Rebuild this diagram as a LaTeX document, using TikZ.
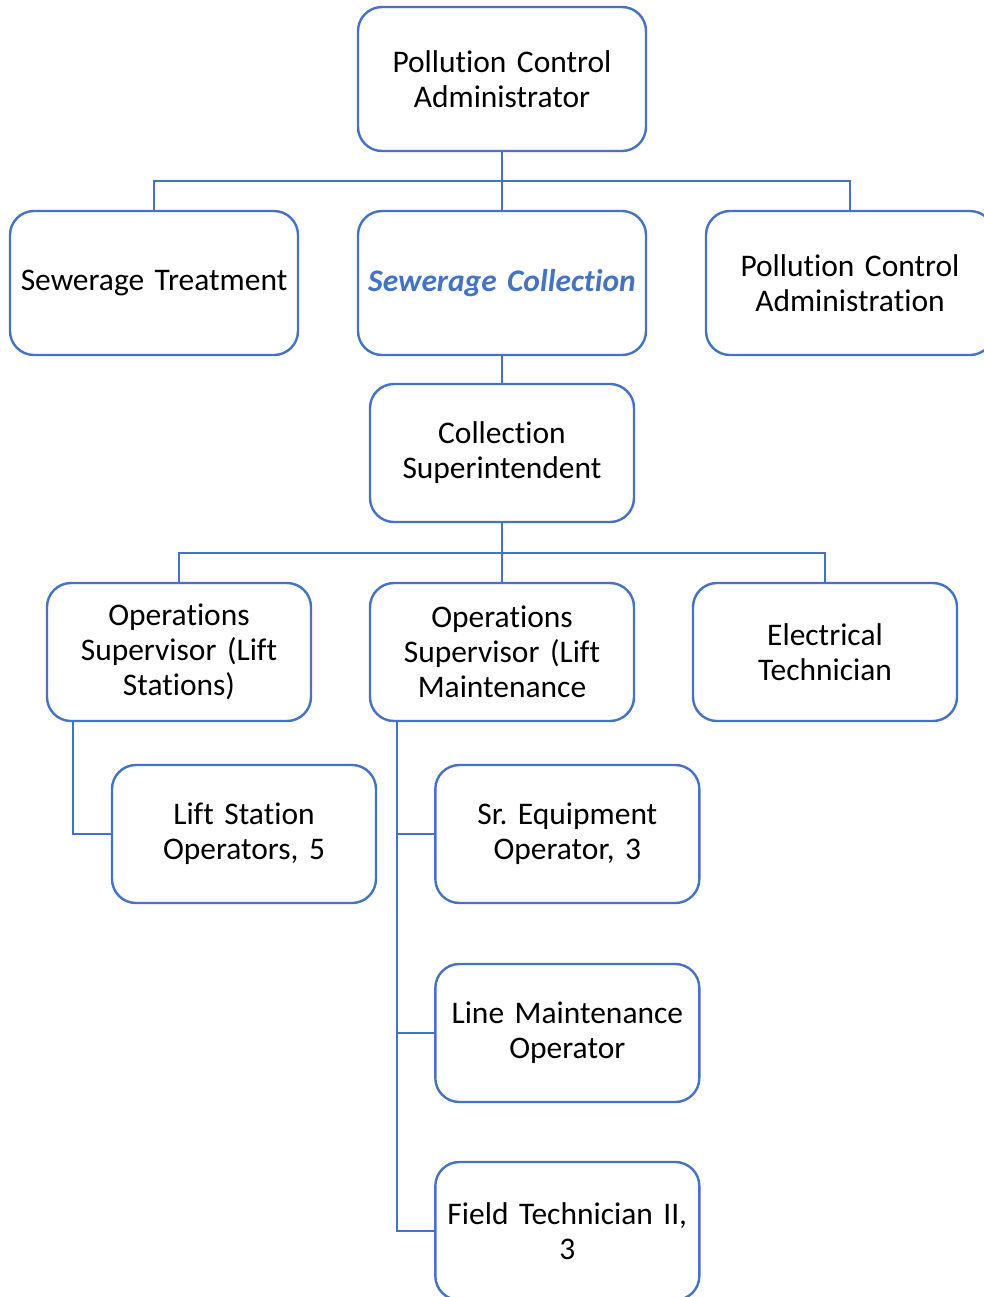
\documentclass[tikz,border=0pt]{standalone}
\usepackage{fontspec}
\setmainfont{Carlito}[RawFeature=-liga]
\usetikzlibrary{positioning, calc}
\definecolor{orgblue}{HTML}{4472C4}
\frenchspacing
\tikzset{
    post/.style={draw=orgblue, line width=1.8pt, rounded corners=18pt, fill=white,
      align=center, inner sep=0pt, outer sep=0pt, text width=210pt,
      minimum width=216pt, minimum height=108pt,
      font=\fontsize{23.6}{26.3}\selectfont},
    subpost/.style={post, text width=194pt, minimum width=198pt, minimum height=103.5pt},
    link/.style={draw=orgblue, line width=1.5pt},
}

\begin{document}
\begin{tikzpicture}[x=0.75pt, y=-0.75pt]
    \useasboundingbox (0,0) rectangle (984,1297);
    \clip (0,0) rectangle (984,1297);

    % top two levels
    \node[post] (admin) at (502,79) {Pollution Control\\Administrator};
    \node[post, below=45pt of admin] (collect)
      {\textcolor{orgblue}{\bfseries\itshape Sewerage Collection}};
    \node[post, left=45pt of collect] (treat) {Sewerage Treatment};
    \node[post, right=45pt of collect] (pcadmin) {Pollution Control\\Administration};
    \node[subpost, below=21.75pt of collect] (super) {Collection\\Superintendent};

    % supervisors
    \node[subpost, below=45.75pt of super] (opslm) {Operations\\Supervisor (Lift\\Maintenance};
    \node[subpost, left=44.25pt of opslm] (opsls) {Operations\\Supervisor (Lift\\Stations)};
    \node[subpost, right=44.25pt of opslm] (elec) {Electrical\\Technician};

    % staff
    \node[subpost, below=33pt of opsls, xshift=48.75pt] (lsop) {Lift Station\\Operators, 5};
    \node[subpost, below=33pt of opslm, xshift=49pt] (sreq) {Sr. Equipment\\Operator, 3};
    \node[subpost, below=45.75pt of sreq] (linemaint) {Line Maintenance\\Operator};
    \node[subpost, below=45pt of linemaint] (fieldtech) {Field Technician II,\\3};

    \coordinate (bus1) at ($(admin.south)!0.5!(collect.north)$);
    \coordinate (bus2) at ($(super.south)!0.5!(opslm.north)$);
    \coordinate (legL) at ([xshift=19.5pt]opsls.south west);
    \coordinate (legM) at ([xshift=20.25pt]opslm.south west);

    \draw[link] (admin.south) -- (collect.north);
    \draw[link] (treat.north) |- (bus1) -| (pcadmin.north);
    \draw[link] (collect.south) -- (super.north);
    \draw[link] (super.south) -- (opslm.north);
    \draw[link] (opsls.north) |- (bus2) -| (elec.north);
    \draw[link] (legL) |- (lsop.west);
    \draw[link] (legM) |- (sreq.west);
    \draw[link] (legM) |- (linemaint.west);
    \draw[link] (legM) |- (fieldtech.west);
\end{tikzpicture}
\end{document}
